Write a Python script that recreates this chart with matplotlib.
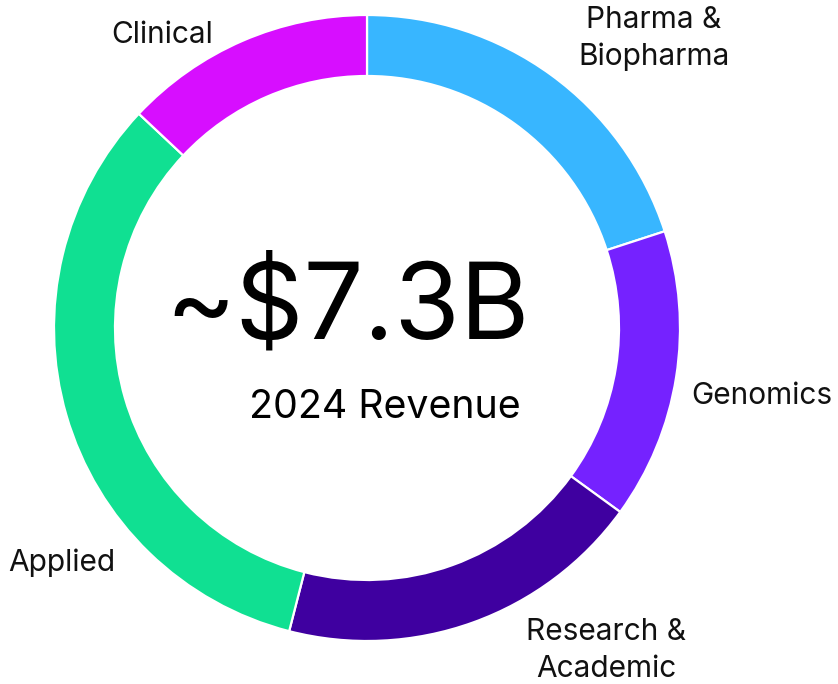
import matplotlib
matplotlib.use("Agg")
import matplotlib.pyplot as plt

categories = ["Pharma &\nBiopharma", "Genomics", "Research &\nAcademic", "Applied", "Clinical"]
shares = [20, 15, 19, 33, 13]
colors = ["#38B6FF", "#7522FF", "#3F00A0", "#10E092", "#D70EFF"]
center_value = "~$7.3B"
center_caption = "2024 Revenue"

W, H = 838, 684
fig = plt.figure(figsize=(W / 100, H / 100), dpi=100)
ax = fig.add_axes([0, 0, 1, 1])
plt.rcParams['font.family'] = ['Inter', 'DejaVu Sans']

cx, cy = 367, H - 328
R, ring = 313, 61
ax.pie(shares, colors=colors, startangle=90, counterclock=False,
       center=(cx, cy), radius=R,
       wedgeprops=dict(width=ring, edgecolor="white", linewidth=1.6))
ax.set_xlim(0, W)
ax.set_ylim(0, H)
ax.set_aspect("equal")
ax.axis("off")

# label anchor positions (pixel coords from top-left: center x, first-line baseline)
label_pos = [(654, 28), (762, 404), (606, 640), (62, 571), (162, 43)]
line_gap = 37
for text, (x, yb) in zip(categories, label_pos):
    for i, line in enumerate(text.split("\n")):
        ax.text(x, H - (yb + i * line_gap), line, ha="center", va="baseline",
                fontsize=21.5, color="#111111")

ax.text(348, H - 338, center_value, ha="center", va="baseline", fontsize=76.5, color="black")
ax.text(385, H - 418, center_caption, ha="center", va="baseline", fontsize=28.3, color="black")

fig.savefig("out.png", dpi=100)
